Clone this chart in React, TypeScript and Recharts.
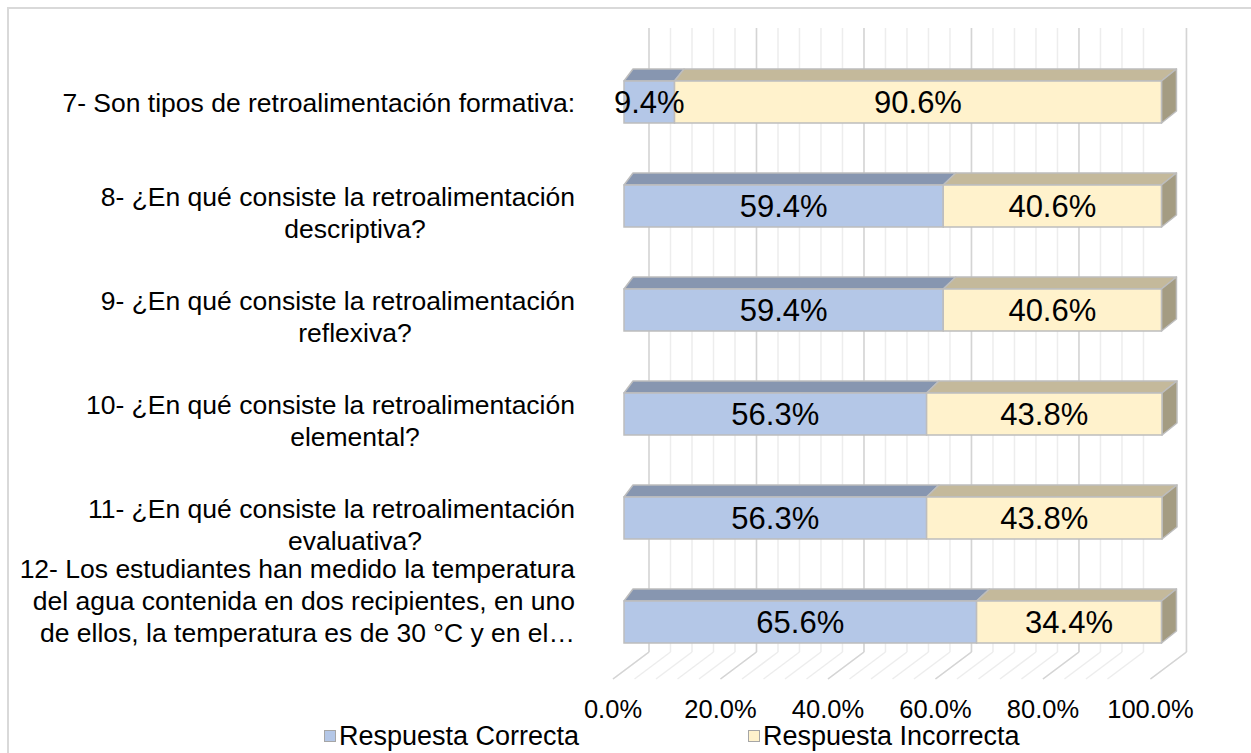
import React from "react";
import { BarChart, Bar, XAxis, YAxis, CartesianGrid, Legend, LabelList } from "recharts";

const categories = [
  "7- Son tipos de retroalimentación formativa:",
  "8- ¿En qué consiste la retroalimentación\ndescriptiva?",
  "9- ¿En qué consiste la retroalimentación\nreflexiva?",
  "10- ¿En qué consiste la retroalimentación\nelemental?",
  "11- ¿En qué consiste la retroalimentación\nevaluativa?",
  "12- Los estudiantes han medido la temperatura\ndel agua contenida en dos recipientes, en uno\nde ellos, la temperatura es de 30 °C y en el…",
];
const correct = [9.4, 59.4, 59.4, 56.3, 56.3, 65.6];
const incorrect = [90.6, 40.6, 40.6, 43.8, 43.8, 34.4];
const majorTicks = [0, 20, 40, 60, 80, 100];
const minorTicks = [0, 4, 8, 12, 16, 20, 24, 28, 32, 36, 40, 44, 48, 52, 56, 60, 64, 68, 72, 76, 80, 84, 88, 92, 96, 100];

const data = categories.map((name, i) => ({ name, correct: correct[i], incorrect: incorrect[i] }));

const FONT = "'Liberation Sans', Arial, sans-serif";
const PLOT_LEFT = 624;
const PLOT_W = 538;
const DEPTH_Y = 12;
const depthX = (x: number) => 9 + (6 * (x - PLOT_LEFT)) / PLOT_W;

const BLUE = { front: "#B4C7E7", top: "#8796B0", side: "#7F8DA6" };
const CREAM = { front: "#FFF2CC", top: "#C4B99B", side: "#A49C82" };
const EDGE = "#BDBDBD";

function box(props: any, c: typeof BLUE, withSide: boolean) {
  const { x, y, width, height } = props;
  if (!width || width <= 0) return <g />;
  const xr = x + width;
  const dl = depthX(x);
  const dr = depthX(xr);
  const topPts = `${x},${y} ${x + dl},${y - DEPTH_Y} ${xr + dr},${y - DEPTH_Y} ${xr},${y}`;
  const sidePts = `${xr},${y} ${xr + dr},${y - DEPTH_Y} ${xr + dr},${y + height - DEPTH_Y} ${xr},${y + height}`;
  return (
    <g>
      <polygon points={topPts} fill={c.top} stroke={EDGE} strokeWidth={1.5} strokeLinejoin="round" />
      {withSide && <polygon points={sidePts} fill={c.side} stroke={EDGE} strokeWidth={1.5} strokeLinejoin="round" />}
      <rect x={x} y={y} width={width} height={height} fill={c.front} stroke={EDGE} strokeWidth={1.5} />
    </g>
  );
}

const CorrectShape = (p: any) => box(p, BLUE, false);
const IncorrectShape = (p: any) => box(p, CREAM, true);

// wall + floor lines for a 3D grid
const gridLine = (color: string) => (p: any) => {
  const { x1, y1, y2, index } = p;
  const back = x1 + 25;
  return (
    <g key={`g-${color}-${index}`}>
      <line x1={back} y1={y1 - 22} x2={back} y2={y2 - 22} stroke={color} strokeWidth={1.5} />
      <line x1={back} y1={y2 - 22} x2={x1 - 11} y2={y2 + 5} stroke={color} strokeWidth={1.5} />
    </g>
  );
};

const LABEL_SIZE = 26.5;
const LINE_H = 32;
const BLOCK_SHIFT: Record<number, number> = { 1: 1, 2: 7, 3: -21 };

let ctx: CanvasRenderingContext2D | null = null;
const textWidth = (s: string) => {
  if (!ctx) ctx = document.createElement("canvas").getContext("2d");
  if (!ctx) return s.length * LABEL_SIZE * 0.5;
  ctx.font = `${LABEL_SIZE}px ${FONT}`;
  return ctx.measureText(s).width;
};

// lines are centred in the label box, but never past its right edge
const CategoryTick = ({ x, y, payload }: any) => {
  const lines = String(payload.value).split("\n");
  const start = y + BLOCK_SHIFT[lines.length] - ((lines.length - 1) * LINE_H) / 2;
  const right = x - 41;
  const center = x - 261;
  return (
    <text textAnchor="end" fontSize={LABEL_SIZE} fontFamily={FONT} fill="#000">
      {lines.map((l, i) => (
        <tspan key={i} x={Math.min(right, center + textWidth(l) / 2)} y={start + i * LINE_H + 9}>
          {l}
        </tspan>
      ))}
    </text>
  );
};

const ValueTick = ({ x, y, payload }: any) => (
  <text x={x - 11} y={y + 36} textAnchor="middle" fontSize={25.5} fontFamily={FONT} fill="#000">
    {`${Number(payload.value).toFixed(1)}%`}
  </text>
);

const legendLeft = [324, 748];
const renderLegend = ({ payload }: any) => (
  <div style={{ position: "relative", height: 30, fontFamily: FONT }}>
    {(payload || []).map((p: any, i: number) => (
      <div key={p.value} style={{ position: "absolute", left: legendLeft[i], top: 0, display: "flex", alignItems: "center", height: 30 }}>
        <span style={{ width: 10, height: 10, background: p.color, border: "1.5px solid #A6A6A6", display: "inline-block" }} />
        <span style={{ marginLeft: 3, fontSize: 27, lineHeight: "30px", color: "#000" }}>{p.value}</span>
      </div>
    ))}
  </div>
);

export default function App() {
  return (
    <div style={{ position: "relative", width: 1251, height: 753, overflow: "hidden", background: "#fff" }}>
      <style>{`body{margin:0}`}</style>
      <div style={{ position: "absolute", left: 7, top: 7, width: 1300, height: 800, border: "2px solid #D9D9D9" }} />
      <div style={{ position: "absolute", left: 0, top: 0 }}>
        <BarChart
          width={1251}
          height={753}
          data={data}
          layout="vertical"
          margin={{ top: 50, right: 89, bottom: 49, left: 24 }}
        >
          <CartesianGrid horizontal={false} verticalValues={minorTicks} vertical={gridLine("#EDEDED")} />
          <CartesianGrid horizontal={false} verticalValues={majorTicks} vertical={gridLine("#D4D4D4")} />
          <XAxis
            type="number"
            domain={[0, 100]}
            ticks={majorTicks}
            axisLine={false}
            tickLine={false}
            height={30}
            tick={<ValueTick />}
          />
          <YAxis
            type="category"
            dataKey="name"
            width={600}
            axisLine={false}
            tickLine={false}
            interval={0}
            tick={<CategoryTick />}
          />
          <Legend
            layout="horizontal"
            verticalAlign="middle"
            align="center"
            content={renderLegend}
            wrapperStyle={{ top: 721, left: 0, width: 1251 }}
          />
          <Bar dataKey="correct" name="Respuesta Correcta" stackId="a" fill={BLUE.front} barSize={42} shape={CorrectShape} isAnimationActive={false}>
            <LabelList dataKey="correct" position="center" formatter={(v: any) => `${Number(v).toFixed(1)}%`} fontSize={31} fill="#000" fontFamily={FONT} />
          </Bar>
          <Bar dataKey="incorrect" name="Respuesta Incorrecta" stackId="a" fill={CREAM.front} barSize={42} shape={IncorrectShape} isAnimationActive={false}>
            <LabelList dataKey="incorrect" position="center" formatter={(v: any) => `${Number(v).toFixed(1)}%`} fontSize={31} fill="#000" fontFamily={FONT} />
          </Bar>
        </BarChart>
      </div>
    </div>
  );
}
